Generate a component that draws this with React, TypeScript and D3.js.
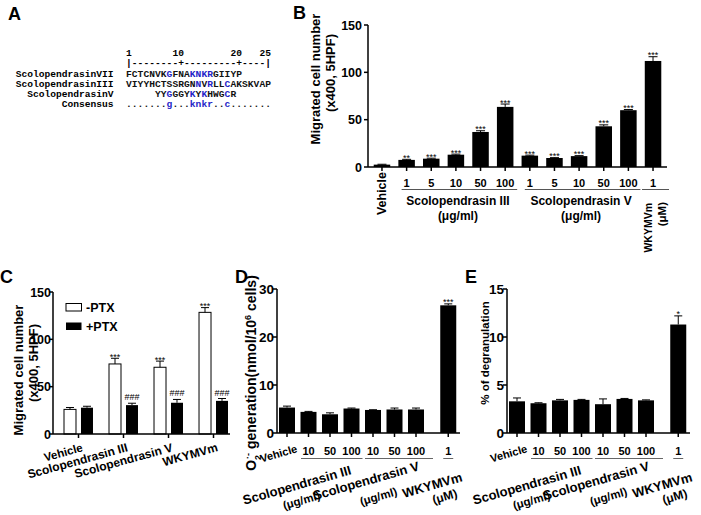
import React from "react";
import * as d3 from "d3";

const SANS = "'Liberation Sans', Arial, sans-serif";
const MONO = "'Liberation Mono', 'DejaVu Sans Mono', monospace";
const BLUE = "#2424c8";

// ---------- Panel A: alignment ----------
const seqNames = ["ScolopendrasinVII", "ScolopendrasinIII", "ScolopendrasinV", "Consensus"];
const seqStrings = ["FCTCNVKGFNAKNKRGIIYP", "VIYYHCTSSRGNNVRLLCAKSKVAP", "YYGGGYKYKHWGCR", ".......g...knkr..c......."];
const seqStart = [1, 1, 6, 1];
const seqBlue = [[8, 12, 13, 14, 15], [13, 15, 18], [8, 12, 14, 18], [8, 12, 13, 14, 15, 18]];
const rulerNumbers = [1, 10, 20, 25];
const rulerMarks = "|--------+---------+----|";

// ---------- Panel B ----------
const bLabels = ["Vehicle", "1", "5", "10", "50", "100", "1", "5", "10", "50", "100", "1"];
const bValues = [2.5, 7.5, 8.8, 13, 37, 63.5, 12, 9.5, 11.5, 43, 60, 112];
const bErrors = [0.4, 0.6, 0.5, 0.6, 1.3, 3, 0.5, 0.4, 0.5, 1.5, 0.7, 4.5];
const bSig = ["", "**", "***", "***", "***", "***", "***", "***", "***", "***", "***", "***"];
const bTicks = [0, 50, 100, 150];
const bGroupSpans = [[1, 5], [6, 10], [11, 11]];

// ---------- Panel C ----------
const cGroups = ["Vehicle", "Scolopendrasin III", "Scolopendrasin V", "WKYMVm"];
const cMinus = [26, 74, 70.5, 128.5];
const cMinusErr = [2, 6, 6.5, 5];
const cPlus = [27.8, 30.5, 33, 35];
const cPlusErr = [1.5, 2, 3.5, 2.5];
const cMinusSig = ["", "***", "***", "***"];
const cPlusSig = ["", "###", "###", "###"];
const cTicks = [0, 50, 100, 150];

// ---------- Panels D & E ----------
const deLabels = ["Vehicle", "10", "50", "100", "10", "50", "100", "1"];
const deSlots = [0, 1, 2, 3, 4, 5, 6, 7.5];
const dValues = [5.3, 4.4, 3.9, 5.1, 4.8, 4.9, 4.9, 26.6];
const dErrors = [0.3, 0.1, 0.3, 0.1, 0.05, 0.3, 0.3, 0.3];
const dSig = ["", "", "", "", "", "", "", "***"];
const dTicks = [0, 10, 20, 30];
const eValues = [3.3, 3.1, 3.4, 3.45, 3.0, 3.55, 3.4, 11.3];
const eErrors = [0.35, 0.05, 0.1, 0.05, 0.55, 0.05, 0.05, 0.9];
const eSig = ["", "", "", "", "", "", "", "*"];
const eTicks = [0, 5, 10, 15];

const ErrBar = ({ x, y0, y1, cap = 9 }: { x: number; y0: number; y1: number; cap?: number }) => (
  <g stroke="#000" strokeWidth={1}>
    <line x1={x} x2={x} y1={y0} y2={y1} />
    <line x1={x - cap / 2} x2={x + cap / 2} y1={y1} y2={y1} />
  </g>
);

function PanelA() {
  const sx = d3.scaleLinear().domain([1, 25]).range([126, 265.2]);
  const cw = 5.8;
  const rowY = [77, 87, 97, 107];
  return (
    <g fontFamily={MONO} fontWeight="bold" fontSize={9.6}>
      <text x={8} y={20} fontFamily={SANS} fontSize={18} fontWeight="bold">A</text>
      {rulerNumbers.map((n) => (
        <text key={n} x={sx(n) + cw} y={56} textAnchor="end">{n}</text>
      ))}
      {rulerMarks.split("").map((c, i) => (
        <text key={i} x={sx(i + 1)} y={66}>{c}</text>
      ))}
      {seqNames.map((name, r) => (
        <g key={name}>
          <text x={113.5} y={rowY[r]} textAnchor="end">{name}</text>
          {seqStrings[r].split("").map((c, i) => {
            const p = seqStart[r] + i;
            return (
              <text key={i} x={sx(p)} y={rowY[r]} fill={seqBlue[r].includes(p) && c !== "." ? BLUE : "#111"}>{c}</text>
            );
          })}
        </g>
      ))}
    </g>
  );
}

function PanelB() {
  const y = d3.scaleLinear().domain([0, 150]).range([167, 25]);
  const x = d3.scaleBand<number>().domain(d3.range(bValues.length)).range([368, 667]).paddingInner(0.33).paddingOuter(0.232);
  const bw = x.bandwidth();
  const cx = (i: number) => (x(i) as number) + bw / 2;
  const groupText = [["Scolopendrasin III", "(μg/ml)"], ["Scolopendrasin V", "(μg/ml)"]];
  return (
    <g fontFamily={SANS} fontWeight="bold">
      <text x={293} y={19} fontSize={18}>B</text>
      {bValues.map((v, i) => (
        <g key={i}>
          <rect x={x(i)} y={y(v)} width={bw} height={y(0) - y(v)} fill="#000" />
          <ErrBar x={cx(i)} y0={y(v)} y1={y(v + bErrors[i])} />
          {bSig[i] && (
            <text x={cx(i)} y={y(v + bErrors[i]) + 1.5} fontSize={9} fontWeight="normal" textAnchor="middle">{bSig[i]}</text>
          )}
          <line x1={cx(i)} x2={cx(i)} y1={167} y2={171} stroke="#000" strokeWidth={1.5} />
        </g>
      ))}
      <line x1={368} x2={368} y1={y(150)} y2={y(0)} stroke="#000" strokeWidth={1.5} />
      <line x1={368} x2={667} y1={y(0)} y2={y(0)} stroke="#000" strokeWidth={1.5} />
      {bTicks.map((t) => (
        <g key={t}>
          <line x1={364} x2={368} y1={y(t)} y2={y(t)} stroke="#000" strokeWidth={1.5} />
          <text x={362} y={y(t) + 4.5} fontSize={12.5} textAnchor="end">{t}</text>
        </g>
      ))}
      <text transform="translate(319.5,79) rotate(-90)" fontSize={13} textAnchor="middle">Migrated cell number</text>
      <text transform="translate(334.5,73) rotate(-90)" fontSize={13} textAnchor="middle">(x400, 5HPF)</text>
      <text transform={`translate(${cx(0) + 4},172) rotate(-90)`} fontSize={12.5} textAnchor="end">{bLabels[0]}</text>
      {bLabels.slice(1).map((l, k) => (
        <text key={k} x={cx(k + 1)} y={187} fontSize={11} textAnchor="middle">{l}</text>
      ))}
      {bGroupSpans.map(([a, b], g) => {
        const x1 = g < 2 ? cx(a) - 5 : cx(a) - 11;
        const x2 = g < 2 ? cx(b) + 12 : cx(b) + 16;
        return <line key={g} x1={x1} x2={x2} y1={189.5} y2={189.5} stroke="#555" strokeWidth={1} />;
      })}
      {groupText.map((lines, g) => {
        const [a, b] = bGroupSpans[g];
        const mid = (cx(a) + cx(b)) / 2 + 2;
        return (
          <g key={g} fontSize={12}>
            <text x={mid} y={205} textAnchor="middle">{lines[0]}</text>
            <text x={mid} y={220} textAnchor="middle">{lines[1]}</text>
          </g>
        );
      })}
      <text transform={`translate(${cx(11) - 1},203) rotate(-90)`} fontSize={10.5} textAnchor="end">WKYMVm</text>
      <text transform={`translate(${cx(11) + 13},202) rotate(-90)`} fontSize={11.5} textAnchor="end">(μM)</text>
    </g>
  );
}

function PanelC() {
  const y = d3.scaleLinear().domain([0, 150]).range([434, 292]);
  const x = d3.scaleBand<number>().domain(d3.range(cGroups.length)).range([64, 228]).paddingInner(0.356).paddingOuter(0);
  const sub = d3.scaleBand<string>().domain(["minus", "plus"]).range([0, x.bandwidth()]).paddingInner(0.294);
  const bw = sub.bandwidth();
  const gc = (i: number) => (x(i) as number) + x.bandwidth() / 2;
  return (
    <g fontFamily={SANS} fontWeight="bold">
      <text x={0} y={283} fontSize={18}>C</text>
      {cGroups.map((g, i) => {
        const xm = (x(i) as number) + (sub("minus") as number);
        const xp = (x(i) as number) + (sub("plus") as number);
        return (
          <g key={g}>
            <rect x={xm} y={y(cMinus[i])} width={bw} height={y(0) - y(cMinus[i])} fill="#fff" stroke="#000" strokeWidth={1} />
            <rect x={xp} y={y(cPlus[i])} width={bw} height={y(0) - y(cPlus[i])} fill="#000" />
            <ErrBar x={xm + bw / 2} y0={y(cMinus[i])} y1={y(cMinus[i] + cMinusErr[i])} cap={8} />
            <ErrBar x={xp + bw / 2} y0={y(cPlus[i])} y1={y(cPlus[i] + cPlusErr[i])} cap={8} />
            {cMinusSig[i] && (
              <text x={xm + bw / 2} y={y(cMinus[i] + cMinusErr[i]) + 1.5} fontSize={9} fontWeight="normal" textAnchor="middle">{cMinusSig[i]}</text>
            )}
            {cPlusSig[i] && (
              <text x={xp + bw / 2} y={y(cPlus[i] + cPlusErr[i]) - 3} fontSize={9} fontWeight="normal" textAnchor="middle">{cPlusSig[i]}</text>
            )}
            <line x1={gc(i)} x2={gc(i)} y1={434} y2={438} stroke="#000" strokeWidth={1.5} />
            <text transform={`translate(${gc(i) + 5},451) rotate(-15.5)`} fontSize={i === 0 ? 11.5 : 12} textAnchor="end">{g}</text>
          </g>
        );
      })}
      <line x1={53} x2={53} y1={y(150)} y2={y(0)} stroke="#000" strokeWidth={1.5} />
      <line x1={53} x2={230} y1={y(0)} y2={y(0)} stroke="#000" strokeWidth={1.5} />
      {cTicks.map((t) => (
        <g key={t}>
          <line x1={49} x2={53} y1={y(t)} y2={y(t)} stroke="#000" strokeWidth={1.5} />
          <text x={51} y={y(t) + 4.5} fontSize={12.5} textAnchor="end">{t}</text>
        </g>
      ))}
      <text transform="translate(23,370) rotate(-90)" fontSize={13} textAnchor="middle">Migrated cell number</text>
      <text transform="translate(38,363) rotate(-90)" fontSize={13} textAnchor="middle">(x400, 5HPF)</text>
      <rect x={66} y={303.5} width={15.5} height={7.5} fill="#fff" stroke="#000" strokeWidth={1} />
      <rect x={66} y={322.5} width={15.5} height={7.5} fill="#000" />
      <text x={86} y={312} fontSize={12.5}>-PTX</text>
      <text x={86} y={331} fontSize={12.5}>+PTX</text>
    </g>
  );
}

type DEProps = {
  ox: number;
  letter: string;
  values: number[];
  errors: number[];
  sig: string[];
  ticks: number[];
  yMax: number;
  title: React.ReactNode;
};

function PanelDE({ ox, letter, values, errors, sig, ticks, yMax, title }: DEProps) {
  const y = d3.scaleLinear().domain([0, yMax]).range([433, 289]);
  const x = d3.scaleLinear().domain([0, 7.5]).range([287 + ox, 448.25 + ox]);
  const bw = 16;
  const ax = 277 + ox;
  const rot = -16;
  const lab = (ex: number, ey: number, txt: string, fs: number, k: string) => (
    <text key={k} transform={`translate(${ex + ox},${ey}) rotate(${rot})`} fontSize={fs} textAnchor="end">{txt}</text>
  );
  const under = [
    [x(deSlots[1]) - 7.5, x(deSlots[3]) + 11],
    [x(deSlots[4]) - 8, x(deSlots[6]) + 17],
    [x(deSlots[7]) - 5, x(deSlots[7]) + 5],
  ];
  return (
    <g fontFamily={SANS} fontWeight="bold">
      <text x={ox + 235} y={283} fontSize={18}>{letter}</text>
      {values.map((v, i) => {
        const c = x(deSlots[i]);
        return (
          <g key={i}>
            <rect x={c - bw / 2} y={y(v)} width={bw} height={y(0) - y(v)} fill="#000" />
            <ErrBar x={c} y0={y(v)} y1={y(v + errors[i])} cap={8} />
            {sig[i] && (
              <text x={c} y={y(v + errors[i]) + 1} fontSize={9} fontWeight="normal" textAnchor="middle">{sig[i]}</text>
            )}
            <line x1={c} x2={c} y1={433} y2={437} stroke="#000" strokeWidth={1.5} />
            {i > 0 && (
              <text x={c} y={455} fontSize={11} textAnchor="middle">{deLabels[i]}</text>
            )}
          </g>
        );
      })}
      {under.map(([a, b], k) => (
        <line key={k} x1={a} x2={b} y1={458.5} y2={458.5} stroke="#666" strokeWidth={1} />
      ))}
      <line x1={ax} x2={ax} y1={y(yMax)} y2={y(0)} stroke="#000" strokeWidth={1.5} />
      <line x1={ax} x2={460 + ox} y1={y(0)} y2={y(0)} stroke="#000" strokeWidth={1.5} />
      {ticks.map((t) => (
        <g key={t}>
          <line x1={ax - 4} x2={ax} y1={y(t)} y2={y(t)} stroke="#000" strokeWidth={1.5} />
          <text x={ax - 3} y={y(t) + 5} fontSize={13.5} textAnchor="end">{t}</text>
        </g>
      ))}
      {lab(298, 452, deLabels[0], 11, "veh")}
      {lab(352, 474, "Scolopendrasin III", 13, "s3")}
      {lab(321, 499, "(μg/ml)", 11.5, "s3u")}
      {lab(420, 470, "Scolopendrasin V", 13, "s5")}
      {lab(398, 495, "(μg/ml)", 11.5, "s5u")}
      {lab(463, 481, "WKYMVm", 13, "w")}
      {lab(458, 497, "(μM)", 12, "wu")}
      {title}
    </g>
  );
}

export default function App() {
  return (
    <svg width={701} height={515} style={{ position: "absolute", left: 0, top: 0, background: "#fff" }}>
      <rect width={701} height={515} fill="#fff" />
      <PanelA />
      <PanelB />
      <PanelC />
      <PanelDE
        ox={0}
        letter="D"
        values={dValues}
        errors={dErrors}
        sig={dSig}
        ticks={dTicks}
        yMax={30}
        title={
          <text transform="translate(256,373) rotate(-90)" fontSize={14} textAnchor="middle">
            <tspan>O</tspan>
            <tspan fontSize={9} baselineShift="sub">2</tspan>
            <tspan fontSize={9} baselineShift="super" dx={-4}>·-</tspan>
            <tspan> generation(nmol/10</tspan>
            <tspan fontSize={9} baselineShift="super">6</tspan>
            <tspan> cells)</tspan>
          </text>
        }
      />
      <PanelDE
        ox={230}
        letter="E"
        values={eValues}
        errors={eErrors}
        sig={eSig}
        ticks={eTicks}
        yMax={15}
        title={
          <text transform="translate(489,353) rotate(-90)" fontSize={11.5} textAnchor="middle">% of degranulation</text>
        }
      />
    </svg>
  );
}
